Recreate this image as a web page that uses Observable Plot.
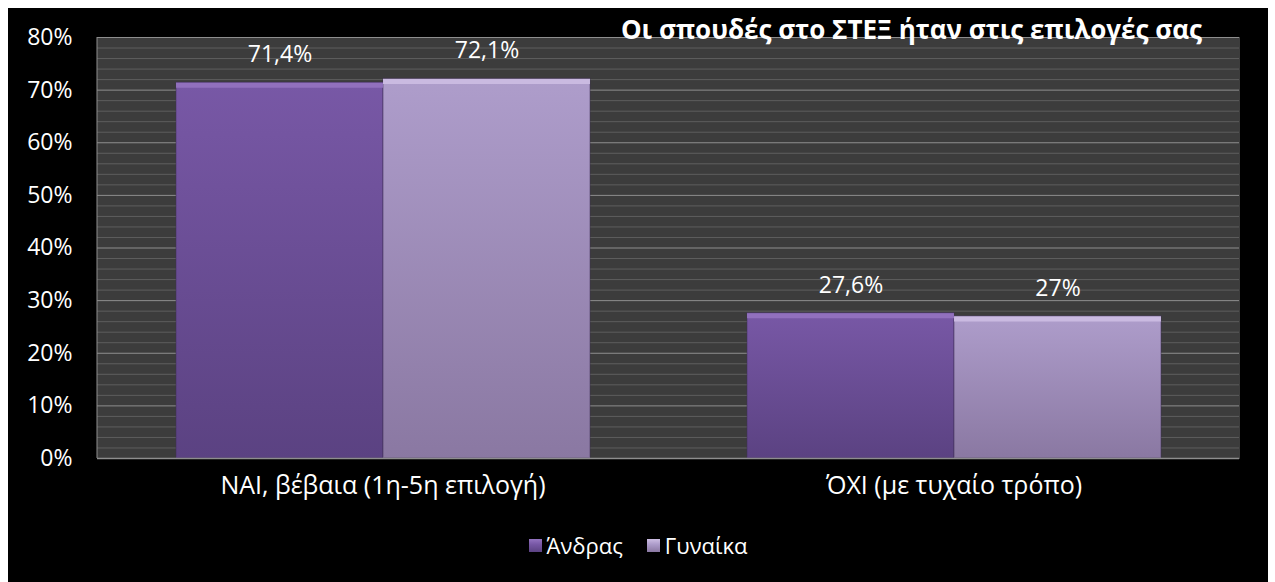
<!DOCTYPE html>
<html>
<head>
<meta charset="utf-8">
<script src="https://cdn.jsdelivr.net/npm/d3@7"></script>
<script src="https://cdn.jsdelivr.net/npm/@observablehq/plot@0.6"></script>
<style>
  html, body { margin: 0; padding: 0; background: #fff; }
  #wrap { position: absolute; left: 8px; top: 8px; width: 1260px; height: 574px; background: #000; overflow: hidden;
          font-family: "Open Sans", "DejaVu Sans", sans-serif; color: #fff; }
  #title { position: absolute; right: 66px; top: 3px; font-size: 26px; font-weight: bold; color: #fff; white-space: nowrap; }
  #legend { position: absolute; top: 522px; left: 0; width: 1260px; display: flex; justify-content: center; gap: 24px; font-size: 22px; }
  .item { display: flex; align-items: center; gap: 5px; }
  .sw { width: 13px; height: 13px; display: inline-block; }
</style>
</head>
<body>
<div id="wrap">
  <div id="chart"></div>
  <div id="title">Οι σπουδές στο ΣΤΕΞ ήταν στις επιλογές σας</div>
  <div id="legend"></div>
</div>
<script>
const categories = ["ΝΑΙ, βέβαια (1η-5η επιλογή)", "ΌΧΙ (με τυχαίο τρόπο)"];
const series = ["Άνδρας", "Γυναίκα"];
const andras = [71.4, 27.6];
const gynaika = [72.1, 27];
const yTicks = [0, 10, 20, 30, 40, 50, 60, 70, 80];
const minorTicks = [2,4,6,8,12,14,16,18,22,24,26,28,32,34,36,38,42,44,46,48,52,54,56,58,62,64,66,68,72,74,76,78];

const seriesColors = {
  "Άνδρας": {top: "#7858a6", bottom: "#5b4282", bevel: "#9373c0"},
  "Γυναίκα": {top: "#ae9dcb", bottom: "#8a78a2", bevel: "#cdbee3"}
};

const data = [];
categories.forEach((c, i) => {
  data.push({category: c, gender: series[0], value: andras[i]});
  data.push({category: c, gender: series[1], value: gynaika[i]});
});

const fmt = v => String(v).replace(".", ",") + "%";

const mL = 89, mT = 29, H = 520, mB = 70;
const chart = Plot.plot({
  width: 1260,
  height: H,
  marginLeft: mL,
  marginRight: 29,
  marginTop: mT,
  marginBottom: mB,
  style: {background: "transparent", color: "#fff", fontSize: "23px", fontFamily: "'Open Sans', 'DejaVu Sans', sans-serif"},
  fx: {domain: categories, padding: 0, label: null},
  x: {domain: series, axis: null, paddingInner: 0, paddingOuter: 0.376},
  y: {domain: [0, 80], label: null},
  color: {type: "ordinal", domain: series, range: ["url(#gA)", "url(#gB)"]},
  marks: [
    Plot.frame({fill: "#3c3c3c", stroke: "#3c3c3c"}),
    Plot.ruleY(minorTicks, {stroke: "#5e5e5e", strokeWidth: 1}),
    Plot.ruleY(yTicks, {stroke: "#8e8e8e", strokeWidth: 1}),
    Plot.axisY({ticks: yTicks, tickFormat: d => d + "%", tickSize: 0, tickPadding: 25, fontSize: 23, label: null}),
    Plot.axisFx({anchor: "bottom", tickSize: 0, tickPadding: 18, fontSize: 25, label: null}),
    Plot.barY(data, {fx: "category", x: "gender", y: "value", fill: "gender", stroke: "#3e2f55", strokeOpacity: 0.35, strokeWidth: 1.5}),
    Plot.tickY(data, {fx: "category", x: "gender", y: "value", stroke: d => seriesColors[d.gender].bevel, strokeWidth: 5, dy: 2.5, strokeOpacity: 0.9}),
    Plot.text(data, {fx: "category", x: "gender", y: "value", text: d => fmt(d.value), dy: -28, fill: "#fff", fontSize: 23}),
    Plot.ruleY([0], {stroke: "#8e8e8e", strokeWidth: 1.5})
  ]
});

const svgns = "http://www.w3.org/2000/svg";
const defs = document.createElementNS(svgns, "defs");
[["gA", series[0]], ["gB", series[1]]].forEach(([id, s]) => {
  const g = document.createElementNS(svgns, "linearGradient");
  g.setAttribute("id", id);
  g.setAttribute("x1", "0"); g.setAttribute("y1", "0"); g.setAttribute("x2", "0"); g.setAttribute("y2", "1");
  [["0", seriesColors[s].top], ["1", seriesColors[s].bottom]].forEach(([o, c]) => {
    const st = document.createElementNS(svgns, "stop");
    st.setAttribute("offset", o); st.setAttribute("stop-color", c);
    g.appendChild(st);
  });
  defs.appendChild(g);
});
chart.insertBefore(defs, chart.firstChild);

// left border of the plot area
const [y0, y1] = chart.scale("y").range;
const border = document.createElementNS(svgns, "line");
border.setAttribute("x1", mL); border.setAttribute("x2", mL);
border.setAttribute("y1", Math.min(y0, y1)); border.setAttribute("y2", Math.max(y0, y1));
border.setAttribute("stroke", "#8e8e8e");
chart.appendChild(border);

document.getElementById("chart").appendChild(chart);

const legend = document.getElementById("legend");
series.forEach(s => {
  const item = document.createElement("div");
  item.className = "item";
  const sw = document.createElement("span");
  sw.className = "sw";
  sw.style.background = `linear-gradient(${seriesColors[s].bevel}, ${seriesColors[s].top} 40%, ${seriesColors[s].bottom})`;
  const t = document.createElement("span");
  t.textContent = s;
  item.appendChild(sw); item.appendChild(t);
  legend.appendChild(item);
});
</script>
</body>
</html>
